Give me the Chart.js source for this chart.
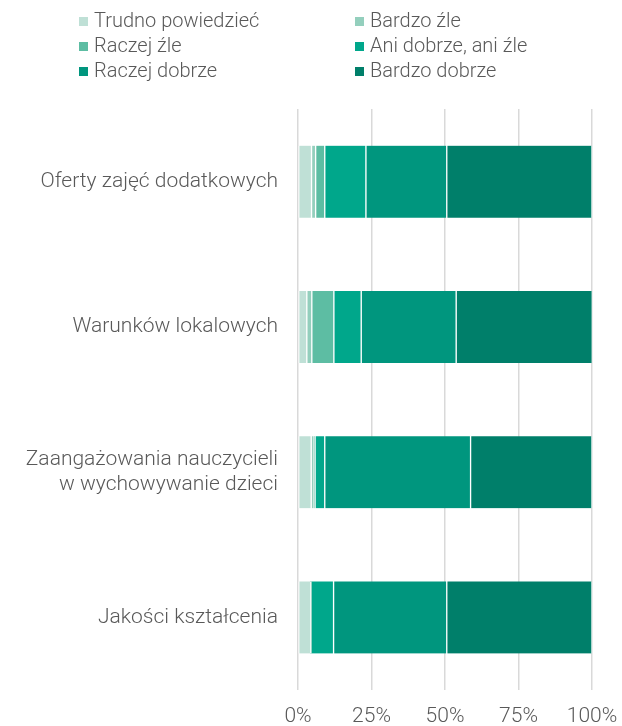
<!DOCTYPE html>
<html>
<head>
<meta charset="utf-8">
<script src="https://cdn.jsdelivr.net/npm/chart.js@4"></script>
<style>
  html, body { margin: 0; padding: 0; background: #fff; }
  #wrap { position: relative; width: 622px; height: 726px; }
  #legend { position: absolute; left: 79px; top: 8px; width: 540px; font-family: Roboto, sans-serif; font-weight: 300; font-size: 20px; color: #595959; }
  #legend .item { position: absolute; white-space: nowrap; line-height: 25px; }
  #legend .box { display: inline-block; width: 9px; height: 9px; margin-right: 6px; vertical-align: 1px; }
</style>
</head>
<body>
<div id="wrap">
  <canvas id="chart" width="622" height="726"></canvas>
  <div id="legend"></div>
</div>
<script>
const categories = [
  "Oferty zajęć dodatkowych",
  "Warunków lokalowych",
  ["Zaangażowania nauczycieli", "w wychowywanie dzieci"],
  "Jakości kształcenia"
];
const seriesNames = ["Trudno powiedzieć", "Bardzo źle", "Raczej źle", "Ani dobrze, ani źle", "Raczej dobrze", "Bardzo dobrze"];
const colors = ["#bfe0d6", "#94cfbd", "#5dbda3", "#00a78b", "#00967e", "#007f6a"];

const trudno       = [4.6, 3.0, 4.5, 4.4];
const bardzoZle    = [1.4, 1.7, 1.0, 0];
const raczejZle    = [3.1, 7.5, 0.3, 0];
const aniAni       = [14.0, 9.3, 3.3, 7.7];
const raczejDobrze = [27.5, 32.3, 49.6, 38.5];
const bardzoDobrze = [49.4, 46.3, 41.3, 49.4];
const xTicks = [0, 25, 50, 75, 100];

const values = [trudno, bardzoZle, raczejZle, aniAni, raczejDobrze, bardzoDobrze];
const textColor = "#595959";
const font = { family: "Roboto, sans-serif", size: 21, weight: 300 };

const chart = new Chart(document.getElementById("chart"), {
  type: "bar",
  data: {
    labels: categories,
    datasets: values.map((v, i) => ({
      label: seriesNames[i],
      data: v,
      backgroundColor: colors[i],
      borderColor: "#fff",
      borderWidth: { left: 1, right: 1, top: 0, bottom: 0 },
      borderSkipped: false,
      barThickness: 72
    }))
  },
  options: {
    indexAxis: "y",
    responsive: false,
    animation: false,
    layout: { padding: { top: 109, right: 30, left: 0, bottom: 0 } },
    plugins: { legend: { display: false }, tooltip: { enabled: false } },
    scales: {
      x: {
        stacked: true,
        min: 0,
        max: 100,
        afterBuildTicks: s => { s.ticks = xTicks.map(v => ({ value: v })); },
        afterFit: s => { s.height = 36; s.paddingLeft = 0; s.paddingRight = 0; },
        grid: { color: "#d9d9d9", lineWidth: 1.5, drawTicks: false },
        border: { display: false },
        ticks: { color: textColor, font: font, padding: 14, callback: v => v + "%" }
      },
      y: {
        stacked: true,
        afterFit: s => { s.width = 298; },
        grid: { display: false },
        border: { display: false },
        ticks: { color: textColor, font: Object.assign({ lineHeight: 1.2 }, font), padding: 12 }
      }
    }
  }
});

// two-column legend, same order as the series
const legend = document.getElementById("legend");
seriesNames.forEach((name, i) => {
  const el = document.createElement("div");
  el.className = "item";
  el.style.left = (i % 2 ? 276 : 0) + "px";
  el.style.top = Math.floor(i / 2) * 25 + "px";
  el.innerHTML = '<span class="box" style="background:' + colors[i] + '"></span>' + name;
  legend.appendChild(el);
});
</script>
</body>
</html>
